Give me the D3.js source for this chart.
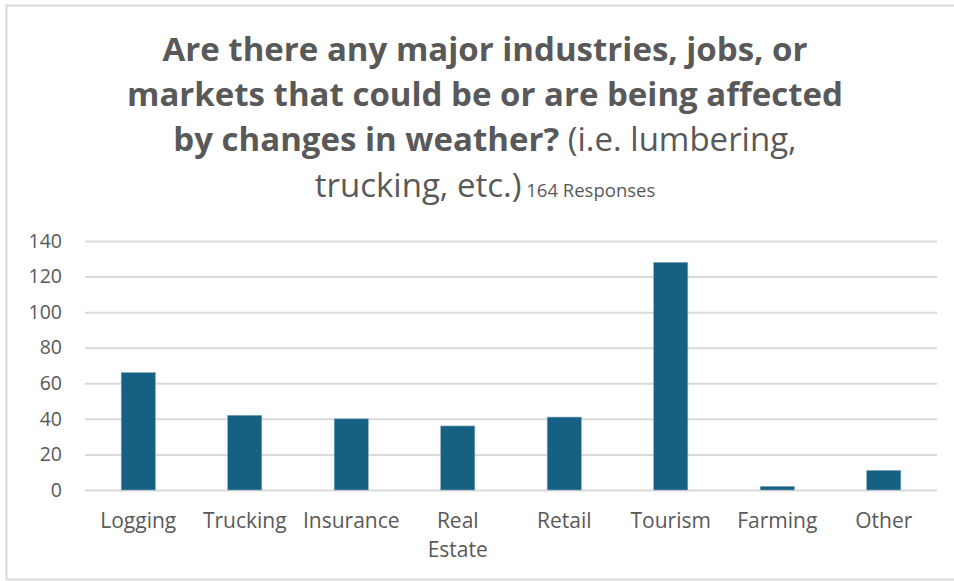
<!DOCTYPE html>
<html>
<head>
<meta charset="utf-8">
<script src="https://cdn.jsdelivr.net/npm/d3@7"></script>
<style>
  html, body { margin: 0; padding: 0; background: #fff; }
  svg { display: block; }
</style>
</head>
<body>
<svg id="chart" width="954" height="581"></svg>
<script>
const categories = ["Logging", "Trucking", "Insurance", "Real Estate", "Retail", "Tourism", "Farming", "Other"];
const values = [66, 42, 40, 36, 41, 128, 2, 11];
const yTicks = [0, 20, 40, 60, 80, 100, 120, 140];
const titleLines = [
  [{t: "Are there any major industries, jobs, or", w: "bold"}],
  [{t: "markets that could be or are being affected", w: "bold"}],
  [{t: "by changes in weather?", w: "bold"}, {t: " (i.e. lumbering,", w: "normal"}],
  [{t: "trucking, etc.)", w: "normal"}, {t: " 164 Responses", w: "normal", small: true}]
];

const W = 954, H = 581;
const margin = {left: 85, right: 17, top: 241, bottom: 91};
const svg = d3.select("#chart");
const textColor = "#595959";
const font = "'Open Sans', Roboto, sans-serif";

// outer border
svg.append("rect").attr("x", 6.5).attr("y", 5.5).attr("width", 960).attr("height", 574)
  .attr("fill", "#fff").attr("stroke", "#d9d9d9").attr("stroke-width", 2);

const x = d3.scaleBand().domain(categories).range([margin.left, W - margin.right]).padding(0);
const y = d3.scaleLinear().domain([0, 140]).range([H - margin.bottom, margin.top]);

// gridlines + y labels
const yAxis = d3.axisLeft(y).tickValues(yTicks).tickSize(-(W - margin.right - margin.left)).tickPadding(23);
const gy = svg.append("g").attr("transform", `translate(${margin.left},0)`).call(yAxis);
gy.select(".domain").remove();
gy.selectAll(".tick line").attr("stroke", "#d9d9d9").attr("stroke-width", 2);
gy.selectAll(".tick text").attr("fill", textColor).style("font-family", font).style("font-size", "19.5px");

// bars
const barW = x.bandwidth() * 0.32;
svg.append("g").selectAll("rect").data(values).join("rect")
  .attr("x", (d, i) => x(categories[i]) + (x.bandwidth() - barW) / 2)
  .attr("y", d => y(d))
  .attr("width", barW)
  .attr("height", d => y(0) - y(d))
  .attr("fill", "#166083")
  .attr("stroke", "#7fa6bd").attr("stroke-width", 0.6);

// category labels
const gx = svg.append("g");
categories.forEach(c => {
  const words = c === "Real Estate" ? ["Real", "Estate"] : [c];
  const t = gx.append("text").attr("text-anchor", "middle")
    .attr("fill", textColor).style("font-family", font).style("font-size", "21px");
  words.forEach((w, k) => {
    t.append("tspan").attr("x", x(c) + x.bandwidth() / 2).attr("y", 528 + k * 29).text(w);
  });
});

// title
const baselines = [61, 106, 151, 197];
titleLines.forEach((line, i) => {
  const t = svg.append("text").attr("text-anchor", "middle").attr("x", W / 2 + 8).attr("y", baselines[i])
    .attr("fill", textColor).style("font-family", font);
  line.forEach(seg => {
    t.append("tspan").text(seg.t)
      .style("font-weight", seg.w)
      .style("font-size", seg.small ? "18.5px" : "33px");
  });
});
</script>
</body>
</html>
